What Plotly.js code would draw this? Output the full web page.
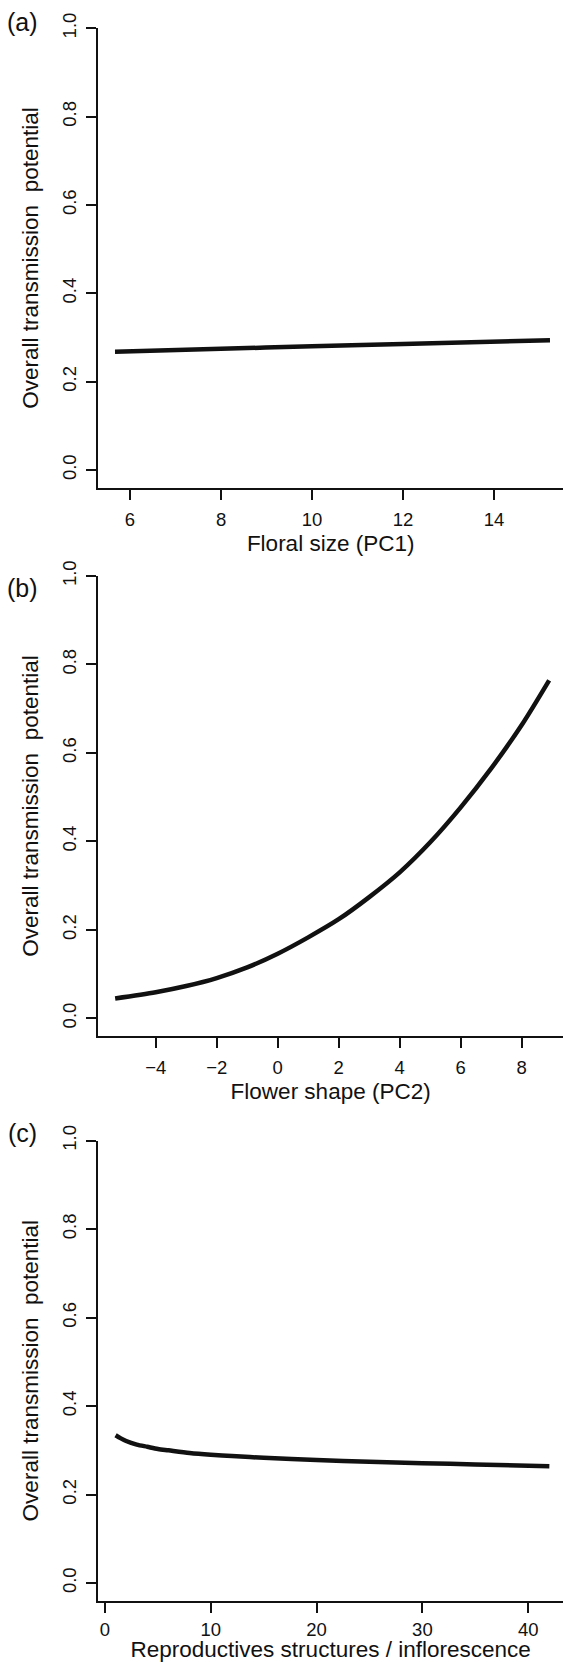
<!DOCTYPE html>
<html>
<head>
<meta charset="utf-8">
<script src="https://cdn.plot.ly/plotly-3.0.1.min.js"></script>
<style>
  html, body { margin: 0; padding: 0; background: #fff; }
  #chart { width: 563px; height: 1662px; }
</style>
</head>
<body>
<div id="chart"></div>
<script>
// ---- Data ----
// (a) Floral size (PC1)
var sizeX = [5.67, 8, 10, 12, 15.23];
var sizeY = [0.268, 0.2745, 0.280, 0.2855, 0.294];

// (b) Flower shape (PC2)
var shapeX = [-5.33, -4, -3, -2, -1, 0, 1, 2, 3, 4, 5, 6, 7, 8, 8.9];
var shapeY = [0.045, 0.059, 0.073, 0.091, 0.115, 0.146, 0.183, 0.224, 0.274, 0.330, 0.398, 0.477, 0.565, 0.663, 0.764];

// (c) Reproductive structures / inflorescence
var reproX = [1, 1.5, 2, 3, 4, 5, 6, 8, 10, 12, 15, 20, 25, 30, 35, 42];
var reproY = [0.334, 0.327, 0.321, 0.313, 0.308, 0.303, 0.300, 0.294, 0.290, 0.287, 0.283, 0.278, 0.274, 0.271, 0.268, 0.264];

var panelLabels = ["(a)", "(b)", "(c)"];
var xTitles = ["Floral size (PC1)", "Flower shape (PC2)", "Reproductives structures / inflorescence"];
var yTitle = "Overall transmission  potential";
var yTickVals = [0, 0.2, 0.4, 0.6, 0.8, 1.0];
var yTickText = ["0.0", "0.2", "0.4", "0.6", "0.8", "1.0"];
var xTickVals = [[6, 8, 10, 12, 14], [-4, -2, 0, 2, 4, 6, 8], [0, 10, 20, 30, 40]];
var xTickText = [["6", "8", "10", "12", "14"], ["\u22124", "\u22122", "0", "2", "4", "6", "8"], ["0", "10", "20", "30", "40"]];

// ---- Layout geometry ----
var W = 563, H = 1662;
var FONT = "Liberation Sans, Arial, Helvetica, sans-serif";
var INK = "#111111";
var xDom = [98.3 / W, 1];
// pixel top (y=1.0) and x-axis line for each panel
var panelPx = [[28.3, 487.7], [576, 1036], [1140.7, 1600.7]];
var xRanges = [[5.303, 15.516], [-5.882, 9.354], [-0.633, 43.29]];
var labelY = [22, 587.5, 1132.5];
var xLabelStandoff = [4, 4, 1];
var xTitleStandoff = [6, 6, 11.5];

function yDom(p) { return [1 - p[1] / H, 1 - p[0] / H]; }

function xAxis(i, yName) {
  return {
    domain: xDom, anchor: yName, range: xRanges[i],
    showline: true, linewidth: 2, linecolor: INK,
    ticks: "outside", ticklen: 10, tickwidth: 2, tickcolor: INK,
    tickvals: xTickVals[i], ticktext: xTickText[i], ticklabelstandoff: xLabelStandoff[i],
    tickfont: { family: FONT, size: 18.5, color: INK },
    showgrid: false, zeroline: false, automargin: false, fixedrange: true,
    title: { text: xTitles[i], font: { family: FONT, size: 22.5, color: INK }, standoff: xTitleStandoff[i] }
  };
}
function yAxis(i, xName) {
  return {
    domain: yDom(panelPx[i]), anchor: xName, range: [-0.04, 1.0],
    showline: true, linewidth: 2, linecolor: INK,
    ticks: "outside", ticklen: 10, tickwidth: 2, tickcolor: INK,
    tickvals: yTickVals, ticktext: yTickText, tickangle: -90, ticklabelstandoff: 3,
    tickfont: { family: FONT, size: 18.5, color: INK },
    showgrid: false, zeroline: false, automargin: false, fixedrange: true,
    title: { text: yTitle, font: { family: FONT, size: 22.5, color: INK }, standoff: 14 }
  };
}

var lineStyle = { color: INK, width: 4.5, shape: "spline", smoothing: 0.8 };
var traces = [
  { x: sizeX, y: sizeY, xaxis: "x", yaxis: "y", mode: "lines", line: lineStyle, hoverinfo: "skip" },
  { x: shapeX, y: shapeY, xaxis: "x2", yaxis: "y2", mode: "lines", line: lineStyle, hoverinfo: "skip" },
  { x: reproX, y: reproY, xaxis: "x3", yaxis: "y3", mode: "lines", line: lineStyle, hoverinfo: "skip" }
];

var annotations = panelLabels.map(function (t, i) {
  return {
    text: t, xref: "paper", yref: "paper", x: 22.5 / W, y: 1 - labelY[i] / H,
    xanchor: "center", yanchor: "middle", showarrow: false,
    font: { family: FONT, size: 25, color: INK }
  };
});

var layout = {
  width: W, height: H,
  margin: { l: 0, r: 0, t: 0, b: 0 },
  paper_bgcolor: "#ffffff", plot_bgcolor: "#ffffff",
  showlegend: false,
  font: { family: FONT, color: INK },
  xaxis: xAxis(0, "y"), yaxis: yAxis(0, "x"),
  xaxis2: xAxis(1, "y2"), yaxis2: yAxis(1, "x2"),
  xaxis3: xAxis(2, "y3"), yaxis3: yAxis(2, "x3"),
  annotations: annotations
};

Plotly.newPlot("chart", traces, layout, { displayModeBar: false, staticPlot: true });
</script>
</body>
</html>
